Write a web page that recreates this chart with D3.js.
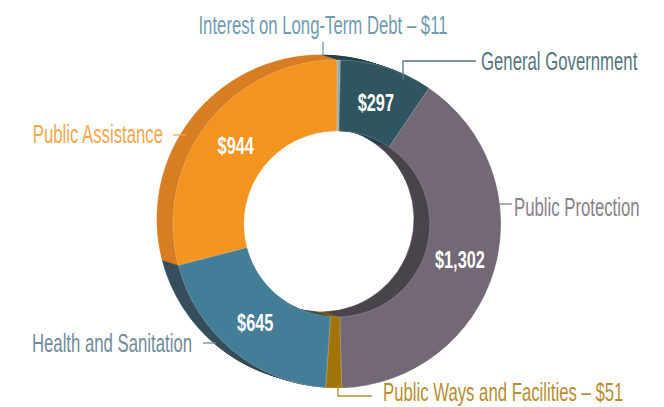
<!DOCTYPE html>
<html>
<head>
<meta charset="utf-8">
<script src="https://cdn.jsdelivr.net/npm/d3@7"></script>
<style>
  body { margin: 0; background: #fff; }
  svg { display: block; }
</style>
</head>
<body>
<script>
// Expenditures by function ($ millions)
const categories = ["Interest on Long-Term Debt", "General Government", "Public Protection",
  "Public Ways and Facilities", "Health and Sanitation", "Public Assistance"];
const values = [11, 297, 1302, 51, 645, 944];
const valueLabels = ["$11", "$297", "$1,302", "$51", "$645", "$944"];
// small slices carry their value in the outside label instead
const valueOutside = [true, false, false, true, false, false];

const width = 664, height = 407;
const cx = 337, cy = 224;
const outerR = 164, innerR = 93;
const depthX = -16, depthY = -5, depthSteps = 16;
const textFont = "'Liberation Sans Narrow', 'Arial Narrow', sans-serif";

const frontColors = ["#93aab2", "#2f5660", "#736875", "#a07406", "#437d98", "#f39320"];
const sideColors  = ["#284a52", "#22434b", "#4b444d", "#7d5a08", "#374f5c", "#d87e24"];
const labelColors = ["#6f9bb0", "#56757e", "#8a808a", "#b68e30", "#718b9b", "#f6a64e"];

// outside label layout: leader line points, text anchor point
const labelLayout = {
  "Interest on Long-Term Debt": { line: [[323, 56], [323, 42]], tx: 323, ty: 34, anchor: "middle" },
  "General Government": { line: [[403, 80], [403, 61], [476, 61]], tx: 481, ty: 70, anchor: "start" },
  "Public Protection": { line: [[500, 204], [512, 204]], tx: 514, ty: 216, anchor: "start" },
  "Public Ways and Facilities": { line: [[338, 386], [338, 396], [372, 396]], tx: 383, ty: 401, anchor: "start" },
  "Health and Sanitation": { line: [[203, 343], [216, 343]], tx: 192, ty: 352, anchor: "end" },
  "Public Assistance": { line: [[173, 135], [186, 135]], tx: 163, ty: 143, anchor: "end" }
};

const data = categories.map((c, i) => ({ name: c, value: values[i], i: i }));

const svg = d3.select("body")
  .append("svg")
  .attr("width", width)
  .attr("height", height);

const pie = d3.pie()
  .value(d => d.value)
  .sort(null);

const arc = d3.arc()
  .innerRadius(innerR)
  .outerRadius(outerR);

const slices = pie(data);

// extruded side: sweep darker copies from the back toward the front
for (let s = depthSteps; s >= 1; s--) {
  svg.append("g")
    .attr("transform", `translate(${cx + depthX * s / depthSteps}, ${cy + depthY * s / depthSteps})`)
    .selectAll("path")
    .data(slices)
    .enter()
    .append("path")
    .attr("d", arc)
    .attr("fill", d => sideColors[d.data.i])
    .attr("stroke", d => sideColors[d.data.i])
    .attr("stroke-width", 0.6);
}

// front face
const front = svg.append("g")
  .attr("transform", `translate(${cx}, ${cy})`);

front.selectAll("path")
  .data(slices)
  .enter()
  .append("path")
  .attr("d", arc)
  .attr("fill", d => frontColors[d.data.i])
  .attr("stroke", "rgba(255,255,255,0.35)")
  .attr("stroke-width", 0.6);

// values inside the ring
const labelArc = d3.arc().innerRadius(128).outerRadius(128);

front.selectAll("g.val")
  .data(slices.filter(d => !valueOutside[d.data.i]))
  .enter()
  .append("g")
  .attr("class", "val")
  .attr("transform", d => `translate(${labelArc.centroid(d)})`)
  .append("text")
  .attr("transform", "scale(0.68,1)")
  .attr("text-anchor", "middle")
  .attr("dy", "0.36em")
  .attr("font-family", textFont)
  .attr("font-weight", "bold")
  .attr("font-size", 24)
  .attr("fill", "#fff")
  .text(d => valueLabels[d.data.i]);

// leader lines and outside labels
const line = d3.line();

svg.selectAll("path.leader")
  .data(data)
  .enter()
  .append("path")
  .attr("class", "leader")
  .attr("d", d => line(labelLayout[d.name].line))
  .attr("fill", "none")
  .attr("stroke", d => labelColors[d.i])
  .attr("stroke-width", 1.3);

svg.selectAll("g.lab")
  .data(data)
  .enter()
  .append("g")
  .attr("class", "lab")
  .attr("transform", d => `translate(${labelLayout[d.name].tx}, ${labelLayout[d.name].ty})`)
  .append("text")
  .attr("transform", "scale(0.67,1)")
  .attr("text-anchor", d => labelLayout[d.name].anchor)
  .attr("font-family", textFont)
  .attr("font-size", 25)
  .attr("fill", d => labelColors[d.i])
  .text(d => valueOutside[d.i] ? `${d.name} – ${valueLabels[d.i]}` : d.name);
</script>
</body>
</html>
